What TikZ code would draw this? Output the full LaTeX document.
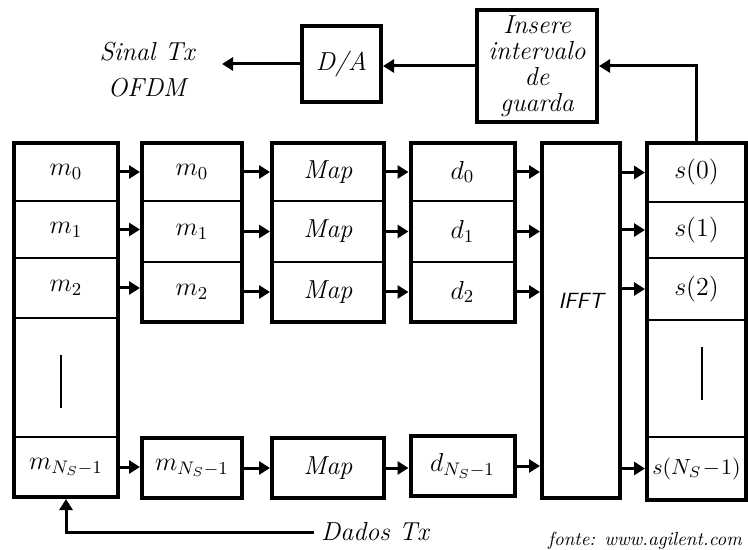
\documentclass[tikz,border=0pt]{standalone}
\usepackage{fix-cm}
\usepackage{tikz}
\usetikzlibrary{arrows.meta, positioning, fit}
\tikzset{
  cell/.style  = {rectangle, draw=black, line width=1pt, inner sep=0pt, outer sep=0pt,
                  align=center, font=\fontsize{13}{15}\selectfont\itshape},
  blk/.style   = {rectangle, draw=black, line width=2pt, inner sep=0pt, outer sep=0pt,
                  align=center, font=\fontsize{13}{15}\selectfont\itshape},
  wA/.style    = {minimum width=52pt},
  wB/.style    = {minimum width=50pt},
  wC/.style    = {minimum width=56pt},
  wD/.style    = {minimum width=52pt},
  wS/.style    = {minimum width=49.5pt},
  txt/.style   = {font=\fontsize{13}{18}\selectfont\itshape, align=center},
  flow/.style  = {-{Triangle[length=5.5pt,width=6.5pt]}, line width=1.5pt, shorten >=1pt},
  vbar/.style  = {line width=1pt},
}

\begin{document}
\begin{tikzpicture}[x=0.5pt, y=-0.5pt]
  \useasboundingbox (0,0) rectangle (748,550);

  % input buffer
  \node[cell, wA, minimum height=29pt]                    (ma0) at (66,172) {$m_0$};
  \node[cell, wA, minimum height=28.5pt, below=0pt of ma0] (ma1) {$m_1$};
  \node[cell, wA, minimum height=30pt,   below=0pt of ma1] (ma2) {$m_2$};
  \node[cell, wA, minimum height=59.5pt, below=0pt of ma2] (ma3) {};
  \node[cell, wA, minimum height=30pt,   below=0pt of ma3] (ma4) {$m_{N_S-1}$};
  \node[blk, fit=(ma0)(ma4)] (colA) {};

  % serial to parallel
  \node[cell, wB, minimum height=29pt]                    (mb0) at (192,172) {$m_0$};
  \node[cell, wB, minimum height=30.5pt, below=0pt of mb0] (mb1) {$m_1$};
  \node[cell, wB, minimum height=30pt,   below=0pt of mb1] (mb2) {$m_2$};
  \node[blk, fit=(mb0)(mb2)] (colB) {};
  \node[blk, wB, minimum height=30pt] (mb4) at (192,468) {$m_{N_S-1}$};

  % mapping
  \node[cell, wC, minimum height=29pt]                    (p0) at (328,172) {Map};
  \node[cell, wC, minimum height=30.5pt, below=0pt of p0] (p1) {Map};
  \node[cell, wC, minimum height=30pt,   below=0pt of p1] (p2) {Map};
  \node[blk, fit=(p0)(p2)] (colC) {};
  \node[blk, wC, minimum height=30pt] (p4) at (328,468) {Map};

  % symbols
  \node[cell, wD, minimum height=29pt]                    (d0) at (462.5,172) {$d_0$};
  \node[cell, wD, minimum height=30.5pt, below=0pt of d0] (d1) {$d_1$};
  \node[cell, wD, minimum height=30pt,   below=0pt of d1] (d2) {$d_2$};
  \node[blk, fit=(d0)(d2)] (colD) {};
  \node[blk, wD, minimum height=30pt] (d4) at (462.5,466) {$d_{N_S-1}$};

  % IFFT
  \node[blk, minimum width=39pt, minimum height=177.5pt,
        label={[font=\fontsize{11}{13}\selectfont\sffamily\itshape, yshift=10pt]center:IFFT}]
        (ifft) at (581,320.5) {};

  % output samples
  \node[cell, wS, minimum height=29.5pt]                  (s0) at (696.5,172.5) {$s(0)$};
  \node[cell, wS, minimum height=28pt,   below=0pt of s0] (s1) {$s(1)$};
  \node[cell, wS, minimum height=31pt,   below=0pt of s1] (s2) {$s(2)$};
  \node[cell, wS, minimum height=58.5pt, below=0pt of s2] (s3) {};
  \node[cell, wS, minimum height=31.5pt, below=0pt of s3,
        font=\fontsize{11}{13}\selectfont] (s4) {$s(N_S\!-\!1)$};
  \node[blk, fit=(s0)(s4)] (colS) {};

  \draw[vbar] ([shift={(-5,-22.5)}]ma3.center) -- ++(0,53);
  \draw[vbar] ([shift={(5.5,-31.5)}]s3.center) -- ++(0,53);

  % top chain
  \node[blk, minimum width=60pt, minimum height=56pt,
        font=\fontsize{13}{13}\selectfont\itshape] (ins) at (537,66)
        {Insere\\intervalo\\de\\guarda};
  \node[blk, minimum width=39.5pt, minimum height=38pt] (da) at (341.5,64) {D/A};
  \node[txt] (sinal) at (147,70) {Sinal Tx\\OFDM};
  \coordinate (out) at (220,64);

  \node[txt] (dados) at (375,532) {Dados Tx};
  \node[font=\fontsize{9.5}{11}\selectfont\itshape] (fonte) at (645,541) {fonte: www.agilent.com};

  % connectors
  \foreach \i in {0,1,2,4} {
    \draw[flow] (ma\i.east) -- (ma\i.east -| mb\i.west);
    \draw[flow] (mb\i.east) -- (mb\i.east -| p\i.west);
    \draw[flow] (p\i.east)  -- (p\i.east -| d\i.west);
    \draw[flow] (d\i.east)  -- (d\i.east -| ifft.west);
    \draw[flow] (s\i.west -| ifft.east) -- (s\i.west);
  }
  \draw[flow] (colS.north) |- (ins.east);
  \draw[flow] (ins.west) -- (ins.west -| da.east);
  \draw[flow] (da.west) -- (out);
  \draw[flow] (dados.west) -| (colA.south);
\end{tikzpicture}
\end{document}
